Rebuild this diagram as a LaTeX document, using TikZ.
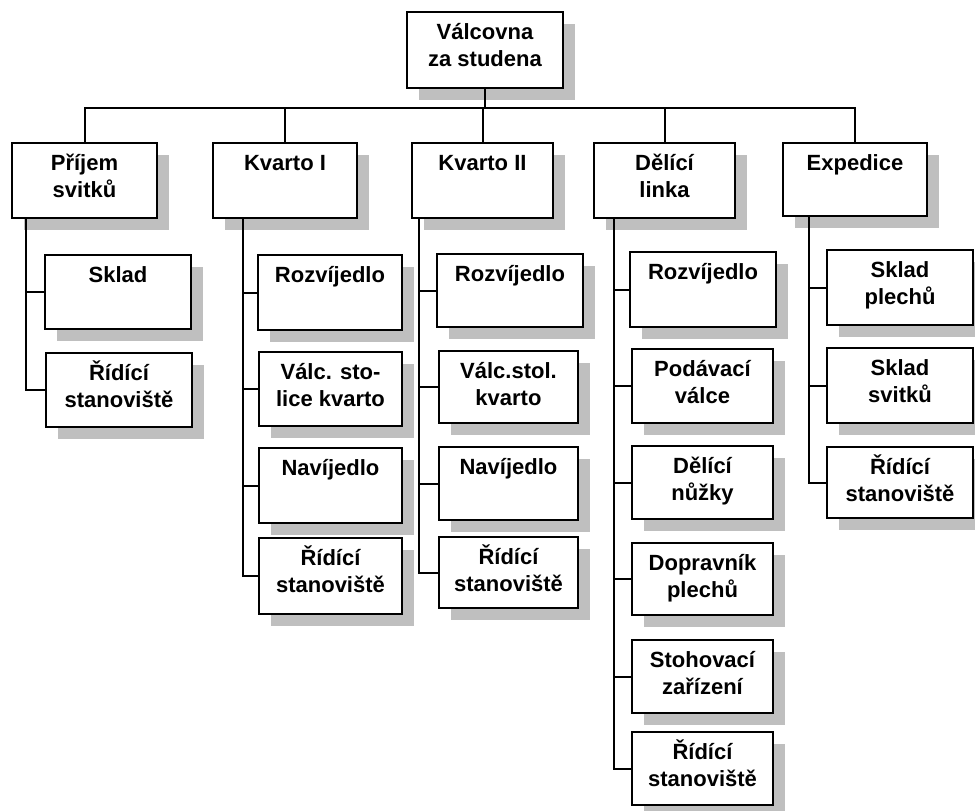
\documentclass[tikz,border=0pt]{standalone}
\usepackage{fontspec}
\setmainfont{Liberation Sans}
\usetikzlibrary{shadows}

% box with its caption near the top edge: name, x1, y1, x2, y2, text
\newcommand\orgbox[6]{%
  \node[unitbox, minimum width={#4-#2}, minimum height={#5-#3}]
    (#1) at ({(#2+#4)/2},{(#3+#5)/2}) {};
  \node[caption] (#1-t) at ([yshift=-8pt]#1.north) {\rule{0pt}{21pt}#6};
}

\begin{document}
\begin{tikzpicture}[x=1pt,y=-1pt,
  unitbox/.style={draw=black, line width=2.8pt, fill=white, inner sep=0pt,
    drop shadow={shadow xshift=12pt, shadow yshift=-12pt, fill=black!25, opacity=1}},
  caption/.style={anchor=north, inner sep=0pt, align=center,
    font=\fontsize{22}{27}\selectfont\bfseries},
  link/.style={line width=2pt}]
\useasboundingbox (0,0) rectangle (975,811);

% top level
\orgbox{root}{407}{12}{563}{88}{Válcovna\\za studena}

% departments
\orgbox{p}{12}{143}{157}{218}{Příjem\\svitků}
\orgbox{ka}{213}{143}{357}{218}{Kvarto I}
\orgbox{kb}{412}{143}{553}{218}{Kvarto II}
\orgbox{d}{594}{143}{735}{218}{Dělící\\linka}
\orgbox{e}{783}{143}{927}{216}{Expedice}

% Příjem svitků
\orgbox{p1}{45}{255}{191}{329}{Sklad}
\orgbox{p2}{46}{353}{192}{427}{Řídící\\stanoviště}

% Kvarto I
\orgbox{ka1}{258}{255}{402}{330}{Rozvíjedlo}
\orgbox{ka2}{259}{352}{402}{426}{Válc. sto-\\lice kvarto}
\orgbox{ka3}{259}{448}{402}{523}{Navíjedlo}
\orgbox{ka4}{259}{538}{402}{614}{Řídící\\stanoviště}

% Kvarto II
\orgbox{kb1}{437}{254}{583}{327}{Rozvíjedlo}
\orgbox{kb2}{439}{351}{578}{423}{Válc.stol.\\kvarto}
\orgbox{kb3}{439}{447}{578}{520}{Navíjedlo}
\orgbox{kb4}{439}{537}{578}{608}{Řídící\\stanoviště}

% Dělící linka
\orgbox{d1}{630}{252}{776}{327}{Rozvíjedlo}
\orgbox{d2}{632}{349}{773}{423}{Podávací\\válce}
\orgbox{d3}{632}{446}{773}{519}{Dělící\\nůžky}
\orgbox{d4}{632}{543}{773}{615}{Dopravník\\plechů}
\orgbox{d5}{632}{640}{773}{713}{Stohovací\\zařízení}
\orgbox{d6}{632}{732}{773}{805}{Řídící\\stanoviště}

% Expedice
\orgbox{e1}{827}{250}{973}{325}{Sklad\\plechů}
\orgbox{e2}{827}{348}{973}{423}{Sklad\\svitků}
\orgbox{e3}{827}{447}{973}{518}{Řídící\\stanoviště}

% bus under the top box
\coordinate (bus) at (0,108);
\draw[link] (root.south) -- (root.south |- bus);
\draw[link] (p.north) -- (p.north |- bus) -- (e.north |- bus) -- (e.north);
\foreach \n in {ka,kb,d}
  \draw[link] (\n.north) -- (\n.north |- bus);

% spines of each department
\coordinate (ps) at (26,0);
\coordinate (kas) at (243,0);
\coordinate (kbs) at (419,0);
\coordinate (ds) at (614,0);
\coordinate (es) at (809,0);

\draw[link] (p.south -| ps) |- (p2.west);
\draw[link] (p1.west) -- (p1.west -| ps);

\draw[link] (ka.south -| kas) |- (ka4.west);
\foreach \n in {ka1,ka2,ka3}
  \draw[link] (\n.west) -- (\n.west -| kas);

\draw[link] (kb.south -| kbs) |- (kb4.west);
\foreach \n in {kb1,kb2,kb3}
  \draw[link] (\n.west) -- (\n.west -| kbs);

\draw[link] (d.south -| ds) |- (d6.west);
\foreach \n in {d1,d2,d3,d4,d5}
  \draw[link] (\n.west) -- (\n.west -| ds);

\draw[link] (e.south -| es) |- (e3.west);
\foreach \n in {e1,e2}
  \draw[link] (\n.west) -- (\n.west -| es);
\end{tikzpicture}
\end{document}
